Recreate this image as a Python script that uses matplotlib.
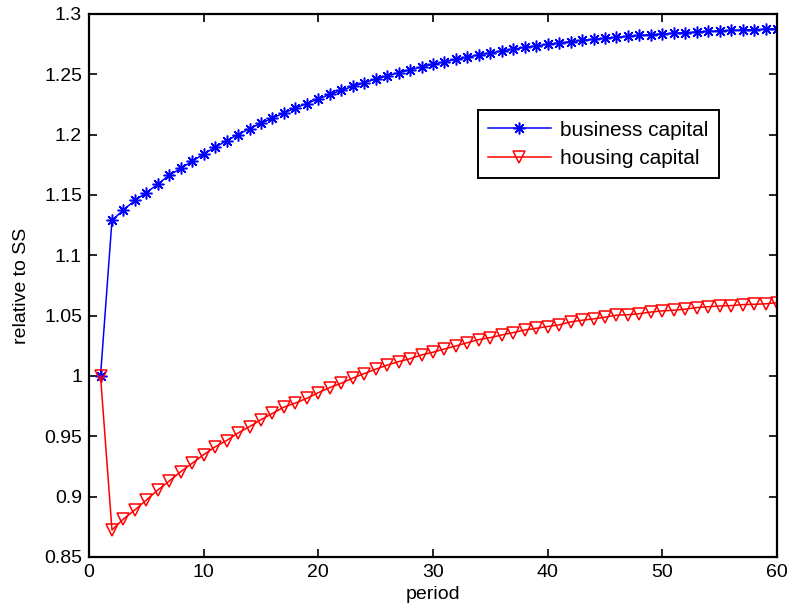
import numpy as np
import matplotlib
matplotlib.use('Agg')
from matplotlib import pyplot as plt

plt.rcParams['font.family'] = ['Liberation Sans', 'DejaVu Sans']

# periodes 1..60
period = np.arange(1, 61)

business = [1.0, 1.129, 1.1376, 1.1455, 1.152, 1.159, 1.1665, 1.172, 1.178, 1.184,
            1.1895, 1.195, 1.2, 1.205, 1.2095, 1.2137, 1.218, 1.222, 1.2258, 1.2296,
            1.2333, 1.2367, 1.24, 1.2431, 1.246, 1.2487, 1.2513, 1.2538, 1.2561, 1.2583,
            1.2604, 1.2624, 1.2643, 1.2661, 1.2678, 1.2694, 1.2709, 1.2723, 1.2736, 1.2749,
            1.276, 1.2771, 1.2781, 1.279, 1.2799, 1.2807, 1.2815, 1.2822, 1.2829, 1.2835,
            1.2841, 1.2846, 1.2851, 1.2856, 1.286, 1.2864, 1.2868, 1.2871, 1.2874, 1.2877]

housing = [1.0, 0.8724, 0.8815, 0.889, 0.8972, 0.9055, 0.913, 0.9207, 0.9277, 0.9348,
           0.9413, 0.9465, 0.9528, 0.958, 0.9638, 0.969, 0.9742, 0.9776, 0.9815, 0.9862,
           0.9904, 0.994, 0.9982, 1.002, 1.0056, 1.009, 1.0119, 1.0143, 1.0174, 1.0197,
           1.0224, 1.0249, 1.0276, 1.0302, 1.0318, 1.034, 1.036, 1.0381, 1.0395, 1.041,
           1.0424, 1.0448, 1.0462, 1.0473, 1.0487, 1.0504, 1.0508, 1.0516, 1.053, 1.054,
           1.0545, 1.0554, 1.0567, 1.0574, 1.058, 1.0583, 1.0592, 1.0594, 1.0598, 1.0608]

xticks = [0, 10, 20, 30, 40, 50, 60]
yticks = [0.85, 0.9, 0.95, 1, 1.05, 1.1, 1.15, 1.2, 1.25, 1.3]
ytick_labels = ['0.85', '0.9', '0.95', '1', '1.05', '1.1', '1.15', '1.2', '1.25', '1.3']

fig = plt.figure(figsize=(7.88, 6.11), dpi=100)
ax = fig.add_axes([0.113, 0.0884, 0.873, 0.8887])

ax.plot(period, business, color='blue', lw=1.1, marker=(8, 2, 0), markersize=8.5,
        markeredgewidth=1.1, label='business capital')
ax.plot(period, housing, color='red', lw=1.1, marker='v', markersize=8.6,
        markerfacecolor='none', markeredgewidth=1.1, label='housing capital')

ax.set_xlim(0, 60)
ax.set_ylim(0.85, 1.3)
ax.set_xticks(xticks)
ax.set_yticks(yticks)
ax.set_yticklabels(ytick_labels)
ax.tick_params(direction='in', length=6, width=1.2, top=True, right=True,
               labelsize=14, pad=5)
for s in ax.spines.values():
    s.set_linewidth(1.6)

ax.set_xlabel('period', fontsize=14, labelpad=4)
ax.set_ylabel('relative to SS', fontsize=14, labelpad=10)

leg = ax.legend(loc='upper left', bbox_to_anchor=(0.565, 0.823), numpoints=1,
                fancybox=False, edgecolor='black', framealpha=1, fontsize=15,
                handlelength=3.0, borderpad=0.5, labelspacing=0.45,
                handletextpad=0.45, borderaxespad=0)
leg.get_frame().set_linewidth(1.4)

plt.savefig('out.png', dpi=100)
